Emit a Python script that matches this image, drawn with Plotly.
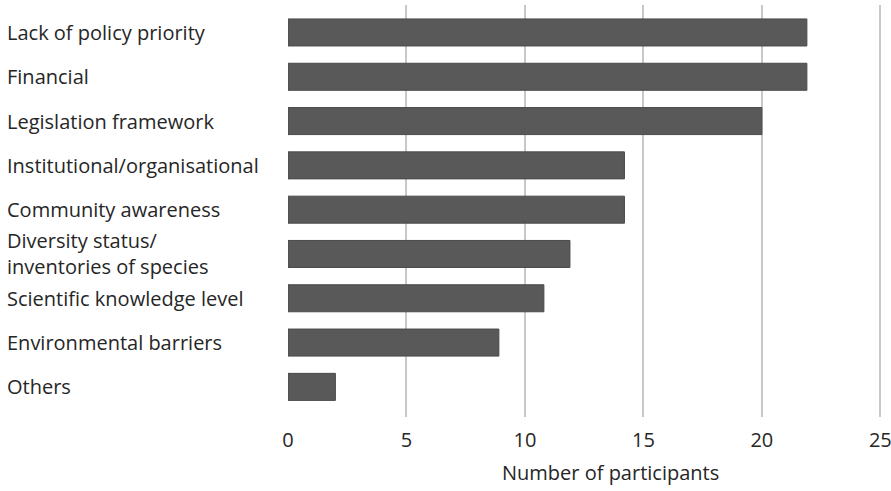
import plotly.graph_objects as go

categories = [
    "Lack of policy priority",
    "Financial",
    "Legislation framework",
    "Institutional/organisational",
    "Community awareness",
    "Diversity status/<br>inventories of species",
    "Scientific knowledge level",
    "Environmental barriers",
    "Others",
]
participants = [21.9, 21.9, 20.0, 14.2, 14.2, 11.9, 10.8, 8.9, 2.0]
x_ticks = [0, 5, 10, 15, 20, 25]

cats_bt = categories[::-1]
vals_bt = participants[::-1]

font_family = "Open Sans"
text_color = "#262626"
fsize = 20

fig = go.Figure(
    go.Bar(
        x=vals_bt,
        y=cats_bt,
        orientation="h",
        marker=dict(color="#595959", line=dict(color="#4a4a4a", width=1)),
        width=0.61,
    )
)

fig.update_layout(
    width=891,
    height=491,
    margin=dict(l=287.5, r=8.6, t=5, b=74),
    paper_bgcolor="white",
    plot_bgcolor="white",
    showlegend=False,
    font=dict(family=font_family, size=fsize, color=text_color),
    annotations=[
        dict(
            text="Number of participants",
            xref="paper", yref="paper",
            x=(610 - 287.5) / (882.4 - 287.5), y=-0.135,
            xanchor="center", yanchor="middle",
            showarrow=False,
            font=dict(family=font_family, size=fsize, color=text_color),
        )
    ],
)

fig.update_xaxes(
    range=[0, 25.07],
    tickvals=x_ticks,
    showgrid=True,
    gridcolor="#c8c8c8",
    gridwidth=1.5,
    zeroline=False,
    showline=False,
    ticks="",
    ticklabelstandoff=9,
    ticklabeloverflow="allow",
    automargin=False,
    tickfont=dict(family=font_family, size=fsize, color=text_color),
)
fig.update_yaxes(
    type="category",
    categoryorder="array",
    categoryarray=cats_bt,
    range=[-0.68, 8.62],
    showgrid=False,
    zeroline=False,
    showline=False,
    ticks="",
    showticklabels=False,
    automargin=False,
)
for c in cats_bt:
    fig.add_annotation(
        text=c, x=0, xref="paper", xshift=-283.5, y=c, yref="y",
        xanchor="left", yanchor="middle", align="left", showarrow=False,
        font=dict(family=font_family, size=fsize, color=text_color),
    )

fig.write_html(
    "out.html",
    config={"displayModeBar": False},
    post_script="document.body.style.margin='0';document.body.style.overflow='hidden';",
)
